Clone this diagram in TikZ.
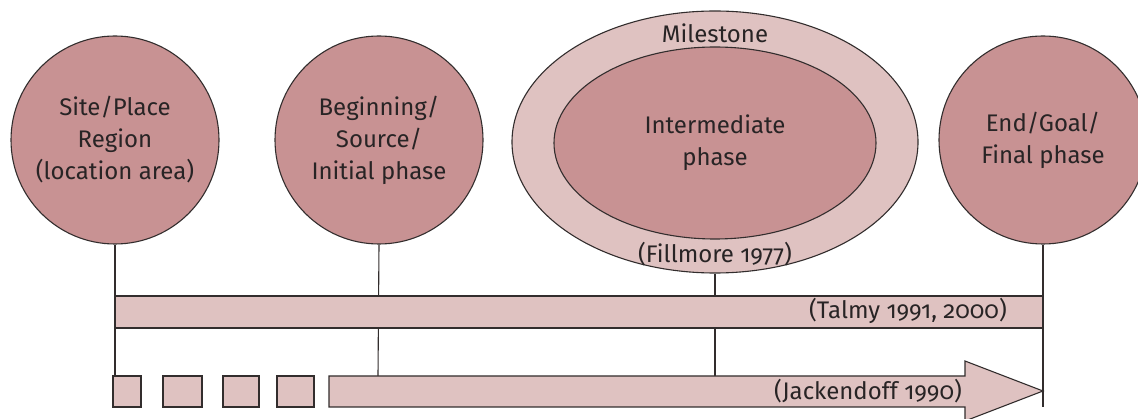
\documentclass[tikz,border=0pt]{standalone}
\usepackage{fontspec}
\setmainfont{Fira Sans}[Numbers=OldStyle]
\usetikzlibrary{shapes.geometric}
\definecolor{rosedark}{RGB}{200,146,147}
\definecolor{roselight}{RGB}{223,194,193}
\definecolor{inkline}{RGB}{50,45,45}
\definecolor{inktext}{RGB}{40,36,37}
\begin{document}
\begin{tikzpicture}[x=1pt,y=-1pt,
  every node/.style={text=inktext,font=\fontsize{24}{32}\selectfont},
  phase/.style={circle,draw=inkline,line width=1.1pt,fill=rosedark,
    minimum size=208pt,inner sep=0pt,align=center},
  outerring/.style={ellipse,draw=inkline,line width=1.1pt,fill=roselight,
    minimum width=406pt,minimum height=262pt,inner sep=0pt},
  innerring/.style={ellipse,draw=inkline,line width=1.1pt,fill=rosedark,
    minimum width=322pt,minimum height=192pt,inner sep=0pt,align=center},
  stem/.style={draw=inkline,line width=1.1pt},
  band/.style={draw=inkline,line width=1.1pt,fill=roselight},
  label/.style={inner sep=0pt}]
\useasboundingbox (0,0) rectangle (1138,419);

% phase circles and the milestone ellipse
\node[phase] (site) at (115,140) {Site/Place\\Region\\(location area)};
\node[phase] (begin) at (379,140) {Beginning/\\Source/\\Initial phase};
\node[phase] (goal) at (1043,140) {End/Goal/\\Final phase};
\node[outerring] (mile) at (715,142) {};
\node[innerring] (inter) at (715,143) {Intermediate\\phase};
\node[label] (miletext) at (715,33) {Milestone};
\node[label] (fill) at (715,254) {(Fillmore 1977)};

% foot points of the stems on the path
\coordinate (siteF) at (115,376);
\coordinate (beginF) at (378,376);
\coordinate (interF) at (715,376);
\coordinate (goalF) at (1043,407);

% stems
\draw[stem] (site.south) -- (siteF);
\draw[stem] (begin.south) -- (beginF);
\draw[stem] (mile.south) -- (interF);
\draw[stem] (goal.south) -- (goalF);

% Talmy band
\draw[band] (115,296) rectangle (1043,328);
\node[label,anchor=east] (talmy) at (1007,311) {(Talmy 1991, 2000)};

% Jackendoff: dashed-in start, then a long arrow
\draw[band] (113,376) rectangle (141,407);
\draw[band] (163,376) rectangle (202,407);
\draw[band] (223,376) rectangle (259,407);
\draw[band] (277,376) rectangle (314,407);
\draw[band] (329,376) -- (965,376) -- (965,361) -- (1043,391)
  -- (965,421) -- (965,407) -- (329,407) -- cycle;
\node[label,anchor=east] (jack) at (962,391) {(Jackendoff 1990)};
\end{tikzpicture}
\end{document}
